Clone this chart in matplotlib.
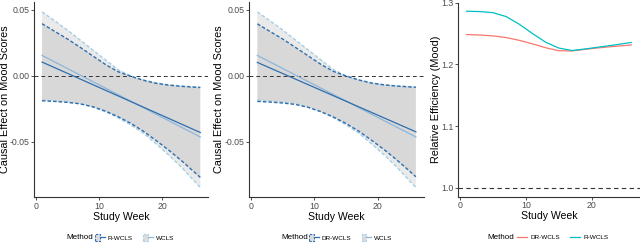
import matplotlib
matplotlib.use('Agg')
import matplotlib.pyplot as plt
from matplotlib.patches import Patch
from matplotlib.lines import Line2D
from matplotlib.legend_handler import HandlerTuple

plt.rcParams['font.family'] = ['Liberation Sans', 'DejaVu Sans']

# ---------------- data ----------------
weeks = [1, 3, 5, 7, 9, 11, 13, 15, 17, 19, 21, 23, 25, 26]
line_weeks = [1, 26]

# Panel 1: R-WCLS vs WCLS
r_est = [0.0103, -0.0430]
r_upper = [0.0393, 0.0335, 0.0278, 0.0215, 0.0150, 0.0085, 0.0030, -0.0005,
           -0.0035, -0.0058, -0.0072, -0.0081, -0.0087, -0.0090]
r_lower = [-0.0190, -0.0195, -0.0202, -0.0213, -0.0235, -0.0268, -0.0310, -0.0360,
           -0.0420, -0.0490, -0.0563, -0.0642, -0.0727, -0.0770]

w_est = [0.0153, -0.0464]
w_upper = [0.0482, 0.0415, 0.0345, 0.0270, 0.0195, 0.0120, 0.0045, -0.0002,
           -0.0032, -0.0055, -0.0069, -0.0078, -0.0084, -0.0087]
w_lower = [-0.0185, -0.0192, -0.0200, -0.0213, -0.0237, -0.0272, -0.0318, -0.0372,
           -0.0435, -0.0515, -0.0600, -0.0692, -0.0795, -0.0846]

# Panel 2: DR-WCLS vs WCLS
dr_est = [0.0100, -0.0425]
dr_upper = [0.0392, 0.0334, 0.0277, 0.0214, 0.0150, 0.0086, 0.0032, -0.0003,
            -0.0033, -0.0056, -0.0070, -0.0079, -0.0085, -0.0088]
dr_lower = [-0.0195, -0.0200, -0.0207, -0.0218, -0.0240, -0.0272, -0.0313, -0.0362,
            -0.0420, -0.0488, -0.0560, -0.0638, -0.0722, -0.0765]

# Panel 3: relative efficiency
eff_dr = [1.2484, 1.2476, 1.2462, 1.2435, 1.2390, 1.2333, 1.2270, 1.2222,
          1.2218, 1.2245, 1.2268, 1.2288, 1.2306, 1.2315]
eff_r = [1.2861, 1.2856, 1.2838, 1.2775, 1.2650, 1.2500, 1.2360, 1.2265,
         1.2225, 1.2250, 1.2280, 1.2308, 1.2340, 1.2355]

x_ticks = [0, 10, 20]
y_ticks_ce = [-0.05, 0.00, 0.05]
y_ticks_eff = [1.0, 1.1, 1.2, 1.3]

DARK = '#2F6FAE'
LIGHT = '#8DB6D8'
LIGHT_EDGE = '#A6CEE3'
RED = '#F8766D'
CYAN = '#00BFC4'

W, H = 640, 243
fig = plt.figure(figsize=(6.4, 2.43), dpi=100)


def add_axes(l, r, t, b):
    return fig.add_axes([l / W, 1 - b / H, (r - l) / W, (b - t) / H])


def style(ax):
    for s in ['top', 'right']:
        ax.spines[s].set_visible(False)
    for s in ['left', 'bottom']:
        ax.spines[s].set_color('#333333')
        ax.spines[s].set_linewidth(0.8)
    ax.tick_params(axis='both', length=2.5, width=0.6, color='#333333',
                   labelcolor='#4D4D4D', labelsize=6.3, pad=0.8)
    ax.set_xlim(-0.25, 27.25)
    ax.set_xticks(x_ticks)
    ax.set_xlabel('Study Week', fontsize=7.6, color='black')
    ax.xaxis.set_label_coords(0.5, -0.076)


def effect_panel(ax, m_est, m_up, m_lo, m_name, ylab_x):
    ax.fill_between(weeks, w_lower, w_upper, facecolor='0.5', alpha=0.16,
                    edgecolor='none', zorder=1)
    ax.fill_between(weeks, m_lo, m_up, facecolor='0.5', alpha=0.16,
                    edgecolor='none', zorder=1)
    ax.axhline(0, color='#333333', lw=0.7, ls=(0, (4, 3)), zorder=2)
    for arr in (w_upper, w_lower):
        ax.plot(weeks, arr, color=LIGHT_EDGE, lw=1.0, ls=(0, (2.5, 1.5)), zorder=3)
    for arr in (m_up, m_lo):
        ax.plot(weeks, arr, color=DARK, lw=1.0, ls=(0, (2.5, 1.5)), zorder=4)
    ax.plot(line_weeks, w_est, color=LIGHT, lw=0.9, zorder=5)
    ax.plot(line_weeks, m_est, color=DARK, lw=0.9, zorder=6)
    style(ax)
    ax.set_ylim(-0.0918, 0.0557)
    ax.set_yticks(y_ticks_ce)
    ax.set_yticklabels(['-0.05', '0.00', '0.05'])
    ax.set_ylabel('Causal Effect on Mood Scores', fontsize=7.8, color='black')
    ax.yaxis.set_label_coords(ylab_x, 0.5)


ax1 = add_axes(34.1, 208.2, 2, 197)
effect_panel(ax1, r_est, r_upper, r_lower, 'R-WCLS', -0.1356)
ax2 = add_axes(249.4, 423.8, 2, 197)
effect_panel(ax2, dr_est, dr_upper, dr_lower, 'DR-WCLS', -0.1485)

ax3 = add_axes(458.4, 639.5, 2.5, 196.7)
ax3.axhline(1.0, color='#333333', lw=0.8, ls=(0, (4, 3)), zorder=2)
ax3.plot(weeks, eff_dr, color=RED, lw=0.9, zorder=3)
ax3.plot(weeks, eff_r, color=CYAN, lw=0.9, zorder=4)
style(ax3)
ax3.set_ylim(0.9857, 1.3003)
ax3.set_yticks(y_ticks_eff)
ax3.set_yticklabels(['1.0', '1.1', '1.2', '1.3'])
ax3.set_ylabel('Relative Efficiency (Mood)', fontsize=7.8, color='black')
ax3.yaxis.set_label_coords(-0.0988, 0.5)

# ---------------- legends ----------------
leg_y = 1 - 237.5 / H


def key(edge, line):
    return (Patch(facecolor='#DCDCDC', edgecolor=edge, linestyle=(0, (2, 1.2)), linewidth=0.8),
            Line2D([], [], color=line, lw=0.9))


def effect_legend(method_x, leg_x, names):
    fig.text(method_x / W, leg_y, 'Method', fontsize=5.8, va='center', ha='left')
    hs = [key(DARK, DARK), key(LIGHT_EDGE, LIGHT)]
    fig.legend(hs, names, loc='center left', bbox_to_anchor=(leg_x / W, leg_y),
               ncol=2, frameon=False, fontsize=4.6, handlelength=1.5, handleheight=1.3,
               handletextpad=0.5, columnspacing=1.6, borderpad=0, borderaxespad=0,
               handler_map={tuple: HandlerTuple(ndivide=None)})


effect_legend(66, 95, ['R-WCLS', 'WCLS'])
effect_legend(281, 309, ['DR-WCLS', 'WCLS'])

fig.text(487 / W, leg_y, 'Method', fontsize=5.8, va='center', ha='left')
fig.legend([Line2D([], [], color=RED, lw=0.9), Line2D([], [], color=CYAN, lw=0.9)],
           ['DR-WCLS', 'R-WCLS'], loc='center left', bbox_to_anchor=(517 / W, leg_y),
           ncol=2, frameon=False, fontsize=4.6, handlelength=1.6,
           handletextpad=0.5, columnspacing=1.6, borderpad=0, borderaxespad=0)

fig.savefig('out.png', dpi=100)
